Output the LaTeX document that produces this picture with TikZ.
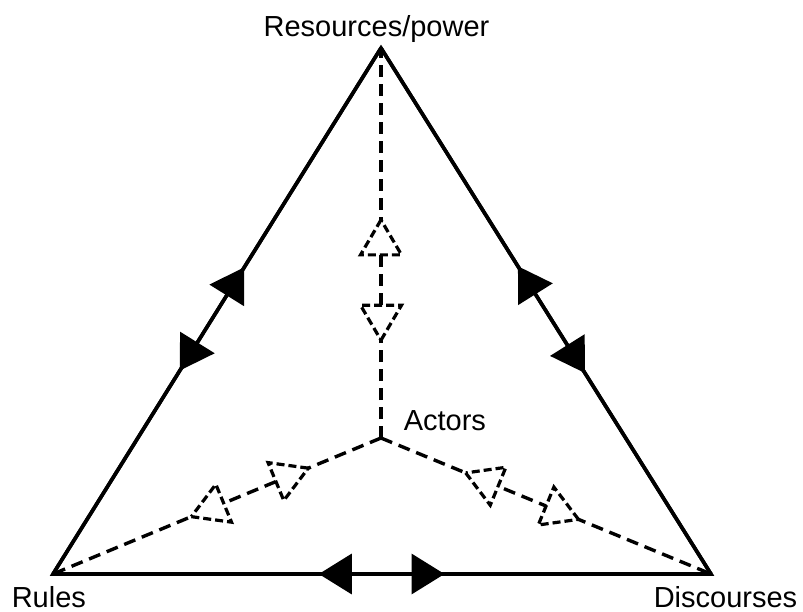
\documentclass[tikz,border=0pt]{standalone}
\usepackage{fontspec}
\setmainfont{Liberation Sans}
\usetikzlibrary{arrows.meta,shapes.geometric,decorations.markings}

\tikzset{every picture/.style={line width=3.6pt}}
\tikzset{corner label/.style={inner sep=0pt, font=\fontsize{29}{35}\selectfont}}
\tikzset{actor line/.style={line width=3.4pt, dash pattern=on 12pt off 7pt}}
\tikzset{hollow tip/.style={isosceles triangle, isosceles triangle stretches, draw, fill=white, inner sep=0pt,
    minimum width=41pt, minimum height=35pt, line width=3.2pt, dash pattern=on 8pt off 4pt,
    sloped, allow upside down, anchor=apex}}
\tikzset{hollow in/.style={hollow tip, shape border rotate=180}}
\tikzset{hollow out/.style={hollow tip}}
\tikzset{twoway/.style 2 args={postaction={decorate}, decoration={markings,
    mark=at position #1 with {\arrowreversed{Triangle[length=33pt,width=40pt]}},
    mark=at position #2 with {\arrow{Triangle[length=33pt,width=40pt]}}}}}
\newcommand{\tippair}[2]{node[pos=#1, hollow in]{} node[pos=#2, hollow out]{}}

\begin{document}
\begin{tikzpicture}[x=1pt,y=-1pt]
        \useasboundingbox (0,0) rectangle (803,612);
        \coordinate (res) at (381,48);
        \coordinate (rules) at (53,574);
        \coordinate (disc) at (711,574);
        \coordinate (act) at (381,438);
        \draw[line join=miter] (res) -- (disc) -- (rules) -- cycle;
        \draw[twoway={.415}{.618}] (res) -- (disc);
        \draw[twoway={.404}{.595}] (rules) -- (disc);
        \draw[twoway={.387}{.583}] (rules) -- (res);
        \draw[actor line] (act) -- (res) \tippair{.24}{.57};
        \draw[actor line] (act) -- (rules) \tippair{.21}{.59};
        \draw[actor line] (act) -- (disc) \tippair{.245}{.61};
        \node[corner label, anchor=base] (resname) at (376.5,37) {Resources/power};
        \node[corner label, anchor=base west] (rulesname) at (10,607) {Rules};
        \node[corner label, anchor=base east] (discname) at (799,607) {Discourses};
        \node[corner label, anchor=base west] (actname) at (402,430) {Actors};
    \end{tikzpicture}
\end{document}
